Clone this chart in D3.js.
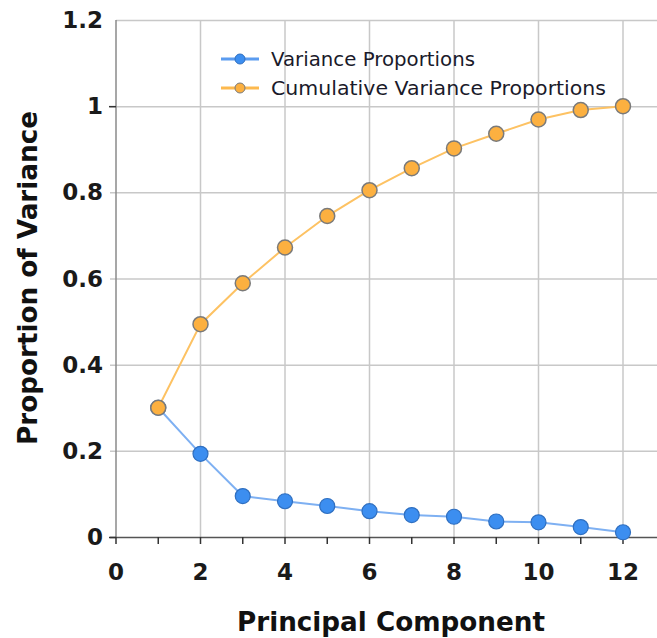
<!DOCTYPE html>
<html><head><meta charset="utf-8">
<script src="https://cdn.jsdelivr.net/npm/d3@7"></script>
<style>body{margin:0;background:#fff}svg{display:block}</style>
</head><body>
<script>
const components = [1,2,3,4,5,6,7,8,9,10,11,12];
const varianceProportions = [0.300,0.193,0.095,0.083,0.072,0.060,0.051,0.047,0.036,0.034,0.023,0.011];
const cumulativeProportions = [0.300,0.494,0.589,0.672,0.745,0.805,0.856,0.902,0.936,0.969,0.991,1.000];
const xTicks = [0,2,4,6,8,10,12];
const yTicks = [0,0.2,0.4,0.6,0.8,1,1.2];
const yTickLabels = ["0","0.2","0.4","0.6","0.8","1","1.2"];
const seriesNames = ["Variance Proportions","Cumulative Variance Proportions"];

const W=657,H=638;
const svg=d3.select("body").append("svg").attr("width",W).attr("height",H);
const x=d3.scaleLinear().domain([0,13]).range([116,116+13*42.25]);
const y=d3.scaleLinear().domain([0,1.2]).range([537,20]);
const font="Tahoma, 'DejaVu Sans', sans-serif";

// gridlines
const g=svg.append("g");
g.selectAll(".hg").data(yTicks.filter(d=>d>0)).join("line")
 .attr("x1",d=> d===1.2 ? 116 : 110).attr("x2",W)
 .attr("y1",d=>y(d)+0.5).attr("y2",d=>y(d)+0.5)
 .attr("stroke","#c8c8c8").attr("stroke-width",1.5);
g.selectAll(".vg").data(xTicks.filter(d=>d>0)).join("line")
 .attr("x1",d=>x(d)).attr("x2",d=>x(d)).attr("y1",y(1.2)).attr("y2",y(0))
 .attr("stroke","#c8c8c8").attr("stroke-width",1.5);

// axes lines
svg.append("line").attr("x1",x(0)).attr("x2",x(0)).attr("y1",y(1.2)).attr("y2",y(0)).attr("stroke","#8a8a8a").attr("stroke-width",1.5);
svg.append("line").attr("x1",x(0)-6).attr("x2",W).attr("y1",y(0)+0.5).attr("y2",y(0)+0.5).attr("stroke","#555").attr("stroke-width",1.5);
svg.selectAll(".yt").data([0,1]).join("line")
 .attr("x1",x(0)-7).attr("x2",x(0)).attr("y1",d=>y(d)+0.5).attr("y2",d=>y(d)+0.5).attr("stroke","#333").attr("stroke-width",1.5);
svg.selectAll(".xt").data(d3.range(0,13)).join("line")
 .attr("x1",d=>x(d)).attr("x2",d=>x(d)).attr("y1",y(0)).attr("y2",y(0)+7).attr("stroke","#333").attr("stroke-width",1.5);

// tick labels
svg.selectAll(".yl").data(yTicks).join("text")
 .attr("x",103).attr("y",d=>y(d)+8).attr("text-anchor","end")
 .attr("font-family",font).attr("font-weight","bold").attr("font-size",23).attr("fill","#1a1a1a")
 .text((d,i)=>yTickLabels[i]);
svg.selectAll(".xl").data(xTicks).join("text")
 .attr("x",d=>x(d)).attr("y",y(0)+43).attr("text-anchor","middle")
 .attr("font-family",font).attr("font-weight","bold").attr("font-size",23).attr("fill","#1a1a1a")
 .text(d=>d);

// axis titles
svg.append("text").attr("x",391).attr("y",631).attr("text-anchor","middle")
 .attr("font-family",font).attr("font-weight","bold").attr("font-size",26).attr("fill","#111")
 .attr("textLength",308).attr("lengthAdjust","spacingAndGlyphs")
 .text("Principal Component");
svg.append("text").attr("transform","translate(37,278) rotate(-90)").attr("text-anchor","middle")
 .attr("font-family",font).attr("font-weight","bold").attr("font-size",26).attr("fill","#111")
 .attr("textLength",334).attr("lengthAdjust","spacingAndGlyphs")
 .text("Proportion of Variance");

// lines
const line=d3.line().x((d,i)=>x(components[i])).y(d=>y(d));
svg.append("path").datum(cumulativeProportions).attr("d",line).attr("fill","none").attr("stroke","#fdc263").attr("stroke-width",2);
svg.append("path").datum(varianceProportions).attr("d",line).attr("fill","none").attr("stroke","#7eb0f2").attr("stroke-width",2);

svg.selectAll(".pv").data(varianceProportions).join("circle")
 .attr("cx",(d,i)=>x(components[i])).attr("cy",d=>y(d)).attr("r",7.5)
 .attr("fill","#3c8ef0").attr("stroke","#2f6fc0").attr("stroke-width",1.2);
svg.selectAll(".pc").data(cumulativeProportions).join("circle")
 .attr("cx",(d,i)=>x(components[i])).attr("cy",d=>y(d)).attr("r",7.5)
 .attr("fill","#fcb040").attr("stroke","#7a7a7a").attr("stroke-width",1.5);

// legend
const legColors=[["#3c8ef0","#2f6fc0","#5b9cf0"],["#fcb040","#7a7a7a","#fdb94e"]];
const legLen=[204,335];
seriesNames.forEach((n,i)=>{
  const ly=59+i*29;
  svg.append("line").attr("x1",221).attr("x2",259).attr("y1",ly).attr("y2",ly).attr("stroke",legColors[i][2]).attr("stroke-width",3);
  svg.append("circle").attr("cx",240).attr("cy",ly).attr("r",5).attr("fill",legColors[i][0]).attr("stroke",legColors[i][1]).attr("stroke-width",1);
  svg.append("text").attr("x",271).attr("y",ly+7).attr("font-family",font).attr("font-size",19).attr("fill","#1a1a2a")
   .attr("textLength",legLen[i]).attr("lengthAdjust","spacingAndGlyphs").text(n);
});
</script>
</body></html>
